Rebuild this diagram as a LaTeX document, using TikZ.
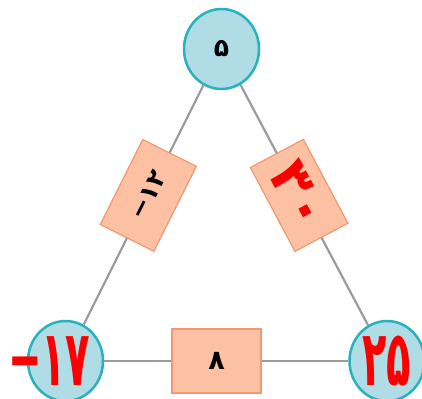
\documentclass[tikz,border=0pt]{standalone}
\usepackage{fontspec}
\usepackage{graphicx}
\newfontfamily\fa[Script=Arabic]{DejaVu Sans}
\usetikzlibrary{shapes.geometric}
\definecolor{circfill}{RGB}{176,220,229}
\definecolor{circline}{RGB}{40,178,190}
\definecolor{boxfill}{RGB}{252,192,162}
\definecolor{boxline}{RGB}{242,152,112}
\definecolor{linegray}{RGB}{155,155,155}
\definecolor{numred}{RGB}{250,0,0}

\begin{document}
\begin{tikzpicture}[x=1pt, y=-1pt,
    vert/.style={ellipse, draw=circline, line width=2.5pt, fill=circfill, minimum width=75pt, minimum height=80pt, inner sep=0pt},
    edgebox/.style={draw=boxline, line width=1.2pt, fill=boxfill, minimum width=95pt, minimum height=60pt, inner sep=0pt, sloped, pos=0.46},
    link/.style={draw=linegray, line width=2.2pt},
    small/.style={font=\fa\bfseries\fontsize{25}{27}\selectfont},
    big/.style={text=numred, font=\fa\bfseries\fontsize{77}{84}\selectfont}
]
    \useasboundingbox (0,0) rectangle (422,398);

    \node[vert, small] (v5) at (221.5,49) {۵};
    \node[vert, big] (v17) at (65.5,361) {\scalebox{0.52}[1]{\llap{\hbox{−}\kern-2pt}\hbox{۱۷}}};
    \node[vert, big] (v25) at (387,361) {\scalebox{0.52}[1]{۲۵}};

    \draw[link] (v5) -- node[edgebox, small] (e12) {\hbox{−}\hbox{۱۲}} (v17);
    \draw[link] (v5) -- node[edgebox, big, font=\fa\bfseries\fontsize{56}{60}\selectfont] (e30) {۳۰} (v25);
    \draw[link] (v17) -- node[edgebox, small, font=\fa\bfseries\fontsize{27}{29}\selectfont, minimum width=89pt, minimum height=64pt] (e8) {۸} (v25);
\end{tikzpicture}
\end{document}
